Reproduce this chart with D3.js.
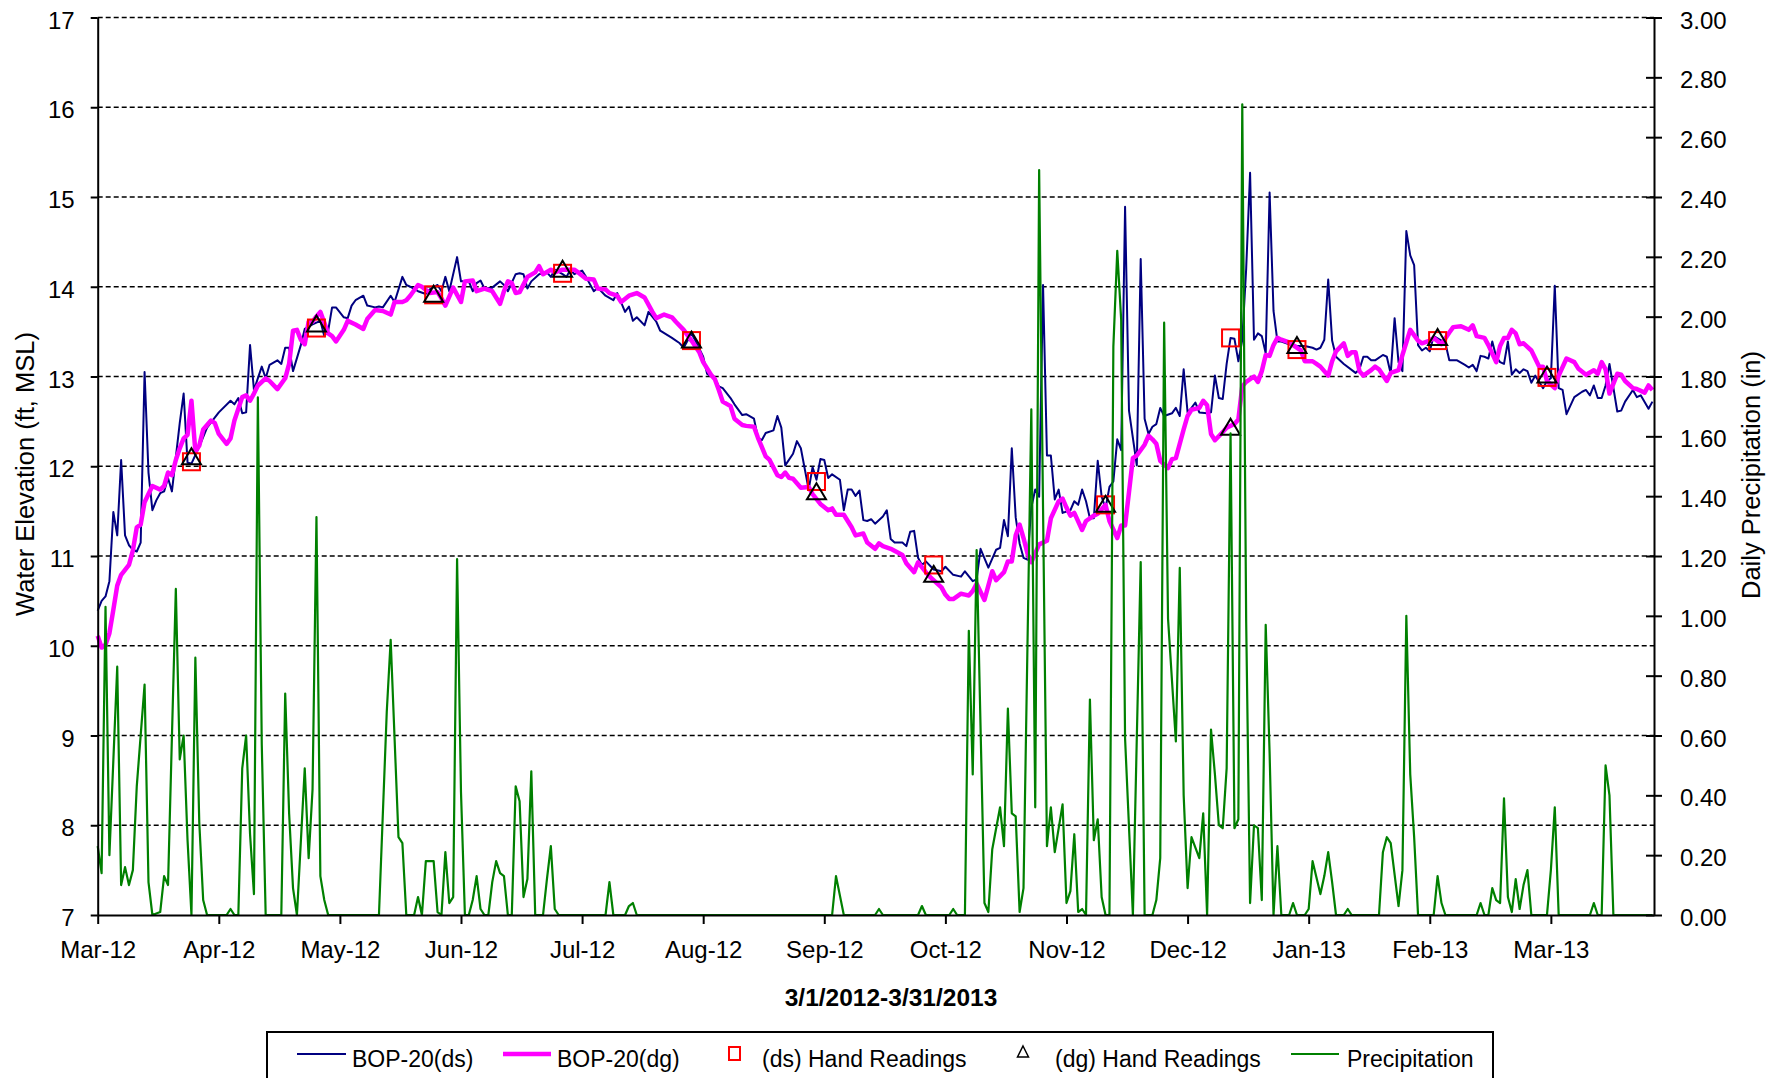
<!DOCTYPE html>
<html>
<head>
<meta charset="utf-8">
<script src="https://cdn.jsdelivr.net/npm/d3@7"></script>
<style>
  body { margin: 0; background: #fff; }
  text { font-family: "Liberation Sans", Arial, sans-serif; fill: #000; }
</style>
</head>
<body>
<div class="center"></div>
<script>
// days are counted from 3/1/2012
var startDate = Date.UTC(2012, 2, 1);
var endDay = 398.4;

// axis ticks (date axis steps 31 days)
var xTickDays = [0, 31, 62, 93, 124, 155, 186, 217, 248, 279, 310, 341, 372];
var elevTicks = [7, 8, 9, 10, 11, 12, 13, 14, 15, 16, 17];
var gridTicks = [8, 9, 10, 11, 12, 13, 14, 15, 16, 17];
var precipTicks = [0, 0.2, 0.4, 0.6, 0.8, 1.0, 1.2, 1.4, 1.6, 1.8, 2.0, 2.2, 2.4, 2.6, 2.8, 3.0];

// BOP-20(ds) water elevation [day, ft MSL]
var dsLevel = [[0,10.39],[1,10.5],[2,10.55],[3,10.72],[4,11.49],[5,11.23],[6,12.07],[7,11.23],[8,11.12],[9,11.07],[10,11.05],[11,11.15],[12,13.05],[13,11.93],[14,11.51],[15,11.62],[16,11.7],[17,11.72],[18,11.87],[19,11.72],[21,12.48],[22,12.81],[23,12.04],[24,12.03],[26,12.22],[28,12.43],[31,12.6],[34,12.73],[35,12.69],[36,12.76],[37,12.59],[38,12.6],[39,13.35],[40,12.85],[42,13.11],[43,12.98],[44,13.13],[46,13.18],[47,13.14],[48,13.32],[49,13.32],[50,13.06],[52,13.35],[53,13.53],[55,13.58],[57,13.62],[58,13.45],[59,13.51],[60,13.77],[61,13.77],[63,13.66],[64,13.65],[65,13.79],[66,13.85],[68,13.9],[69,13.79],[71,13.77],[72,13.78],[73,13.77],[75,13.9],[76,13.83],[78,14.11],[79,14.02],[80,14.0],[82,13.95],[84,13.92],[85,13.97],[87,14.02],[88,13.95],[89,14.11],[90,13.95],[92,14.33],[93,14.06],[95,14.06],[96,13.95],[97,14.04],[98,14.07],[99,13.98],[101,13.99],[103,14.06],[104,14.02],[105,13.95],[107,14.14],[108,14.15],[109,14.14],[110,13.98],[111,14.06],[113,14.14],[115,14.16],[116,14.11],[117,14.19],[119,14.14],[120,14.11],[121,14.19],[122,14.14],[124,14.18],[125,14.11],[127,13.95],[128,13.99],[130,13.9],[132,13.85],[133,13.93],[135,13.72],[136,13.78],[137,13.62],[138,13.66],[140,13.57],[141,13.72],[143,13.61],[144,13.51],[147,13.43],[149,13.37],[150,13.32],[152,13.48],[153,13.4],[155,13.22],[156,13.03],[158,12.98],[159,12.89],[160,12.87],[162,12.76],[163,12.69],[165,12.57],[166,12.58],[168,12.53],[169,12.32],[170,12.29],[171,12.37],[173,12.4],[174,12.56],[175,12.43],[176,12.01],[178,12.14],[179,12.28],[180,12.2],[182,11.74],[183,11.99],[184,11.85],[185,12.08],[186,12.07],[187,11.87],[188,11.91],[190,11.85],[191,11.51],[192,11.74],[193,11.74],[194,11.67],[195,11.73],[196,11.4],[197,11.39],[198,11.41],[199,11.36],[201,11.44],[202,11.51],[203,11.19],[204,11.15],[206,11.15],[207,11.11],[208,11.27],[209,11.28],[210,10.98],[211,10.9],[212,10.94],[214,10.85],[216,10.83],[217,10.88],[219,10.79],[221,10.77],[222,10.83],[224,10.72],[225,10.74],[226,11.08],[228,10.87],[230,11.07],[231,11.09],[232,11.4],[233,11.22],[234,12.2],[235,11.43],[236,11.14],[237,10.98],[238,10.96],[239,11.54],[240,11.74],[241,11.66],[242,14.02],[243,12.12],[244,12.12],[245,11.63],[246,11.74],[247,11.48],[249,11.51],[250,11.61],[251,11.57],[252,11.74],[253,11.61],[254,11.42],[255,11.42],[256,12.06],[257,11.66],[258,11.53],[259,11.77],[260,11.83],[261,12.3],[262,12.18],[263,14.89],[264,12.62],[266,12.01],[267,14.31],[268,12.53],[269,12.36],[270,12.44],[271,12.47],[272,12.65],[273,12.56],[275,12.59],[276,12.65],[277,12.56],[278,13.08],[279,12.6],[280,12.65],[281,12.71],[282,12.6],[284,12.59],[285,12.6],[286,13.01],[287,12.76],[288,12.75],[289,13.14],[290,13.43],[291,13.42],[292,13.17],[293,13.41],[294,14.2],[295,15.27],[296,13.41],[297,13.48],[298,13.45],[299,13.26],[300,15.05],[301,13.73],[302,13.39],[303,13.39],[305,13.36],[307,13.34],[309,13.34],[311,13.32],[312,13.3],[313,13.32],[314,13.41],[315,14.08],[316,13.4],[317,13.22],[319,13.14],[322,13.04],[323,13.08],[324,13.22],[325,13.22],[326,13.18],[327,13.18],[329,13.24],[330,13.22],[331,13.03],[332,13.65],[333,13.16],[334,13.06],[335,14.62],[336,14.35],[337,14.24],[338,13.35],[339,13.29],[340,13.32],[341,13.28],[342,13.45],[344,13.4],[345,13.37],[346,13.18],[348,13.18],[350,13.13],[351,13.1],[352,13.13],[353,13.06],[354,13.23],[355,13.22],[356,13.2],[357,13.39],[358,13.22],[359,13.16],[360,13.14],[361,13.39],[362,13.02],[363,13.08],[364,13.04],[365,13.08],[366,13.06],[367,12.93],[368,13.01],[370,12.87],[371,12.95],[372,12.98],[373,14.01],[374,12.87],[375,12.85],[376,12.58],[378,12.77],[380,12.83],[381,12.85],[382,12.79],[383,12.9],[384,12.76],[385,12.76],[386,12.9],[387,13.14],[389,12.61],[390,12.62],[391,12.72],[393,12.85],[394,12.77],[395,12.79],[397,12.64],[398,12.72]];

// BOP-20(dg) water elevation [day, ft MSL]
var dgLevel = [[0,10.11],[1,9.98],[2,10.01],[3,10.14],[4,10.4],[5,10.67],[6,10.79],[8,10.9],[9,11.06],[10,11.32],[11,11.35],[12,11.6],[13,11.69],[14,11.78],[16,11.74],[17,11.78],[18,11.93],[19,11.9],[20,12.07],[21,12.2],[22,12.31],[23,12.35],[24,12.73],[25,12.16],[26,12.23],[27,12.41],[29,12.51],[30,12.48],[31,12.36],[33,12.25],[34,12.31],[35,12.51],[37,12.77],[38,12.79],[39,12.73],[40,12.81],[41,12.9],[43,12.98],[44,12.95],[46,12.86],[48,12.98],[49,13.14],[50,13.51],[51,13.52],[52,13.41],[53,13.36],[54,13.61],[55,13.61],[56,13.67],[57,13.72],[59,13.48],[60,13.45],[61,13.39],[63,13.52],[64,13.62],[66,13.58],[68,13.53],[69,13.64],[71,13.74],[73,13.73],[75,13.69],[76,13.83],[78,13.83],[79,13.85],[80,13.9],[82,14.02],[83,14.0],[85,13.93],[87,13.94],[88,13.87],[89,13.79],[91,13.99],[93,13.83],[94,14.06],[96,14.07],[97,13.95],[99,13.98],[101,13.95],[103,13.81],[104,13.95],[105,14.06],[106,14.04],[107,13.93],[108,13.94],[110,14.11],[112,14.16],[113,14.23],[114,14.14],[116,14.19],[117,14.16],[119,14.19],[120,14.19],[122,14.19],[123,14.16],[125,14.09],[127,14.08],[128,13.98],[130,13.97],[131,13.93],[133,13.9],[134,13.83],[136,13.9],[138,13.93],[140,13.88],[142,13.72],[143,13.65],[145,13.69],[147,13.66],[148,13.61],[150,13.52],[152,13.4],[154,13.27],[155,13.16],[157,13.02],[158,12.97],[159,12.85],[160,12.72],[162,12.67],[163,12.53],[165,12.46],[166,12.45],[168,12.44],[169,12.32],[171,12.11],[172,12.07],[174,11.9],[175,11.88],[176,11.93],[177,11.87],[178,11.86],[180,11.76],[182,11.77],[183,11.69],[185,11.58],[187,11.51],[188,11.53],[189,11.46],[191,11.46],[193,11.32],[194,11.23],[196,11.25],[197,11.15],[199,11.08],[200,11.14],[201,11.11],[203,11.08],[206,11.01],[207,10.92],[209,10.82],[210,10.93],[212,10.82],[213,10.77],[215,10.69],[216,10.65],[217,10.57],[218,10.52],[219,10.52],[221,10.58],[222,10.57],[223,10.56],[224,10.61],[225,10.69],[227,10.51],[228,10.67],[229,10.83],[230,10.73],[232,10.82],[233,10.94],[234,10.94],[235,11.23],[236,11.35],[237,11.2],[238,11.03],[239,10.93],[240,11.03],[241,11.13],[243,11.17],[244,11.42],[246,11.61],[247,11.64],[248,11.54],[249,11.45],[250,11.48],[252,11.29],[253,11.39],[255,11.45],[256,11.47],[258,11.57],[259,11.39],[261,11.2],[262,11.34],[263,11.34],[264,11.71],[265,12.09],[266,12.12],[268,12.24],[269,12.34],[270,12.3],[271,12.25],[272,12.06],[274,11.98],[275,12.08],[276,12.09],[278,12.41],[279,12.56],[280,12.63],[282,12.65],[283,12.73],[284,12.68],[285,12.36],[286,12.29],[288,12.38],[289,12.43],[291,12.47],[292,12.52],[293,12.89],[294,12.94],[296,13.0],[297,12.94],[298,13.06],[299,13.24],[300,13.23],[301,13.35],[302,13.43],[303,13.41],[305,13.38],[306,13.35],[308,13.29],[309,13.17],[311,13.17],[312,13.14],[313,13.11],[315,13.01],[316,13.17],[317,13.28],[319,13.37],[320,13.23],[321,13.27],[322,13.27],[323,13.06],[324,13.01],[326,13.07],[327,13.11],[328,13.08],[330,12.95],[331,13.04],[333,13.07],[334,13.24],[336,13.52],[338,13.4],[339,13.37],[341,13.4],[342,13.43],[344,13.36],[346,13.49],[347,13.55],[349,13.56],[351,13.52],[352,13.57],[353,13.45],[355,13.43],[356,13.35],[358,13.16],[359,13.34],[360,13.43],[361,13.43],[362,13.52],[363,13.48],[364,13.36],[365,13.37],[367,13.29],[368,13.2],[369,13.11],[370,13.11],[371,12.95],[373,12.87],[374,13.01],[376,13.2],[378,13.16],[379,13.09],[381,13.02],[383,13.07],[384,13.03],[385,13.16],[386,13.08],[387,12.81],[389,13.03],[390,13.02],[391,12.95],[393,12.87],[394,12.86],[396,12.82],[397,12.9],[398,12.85]];

// hand readings [day, ft MSL]
var handDs = [[24,12.05],[56,13.54],[86,13.91],[119,14.15],[152,13.4],[184,11.83],[214,10.9],[258,11.57],[290,13.43],[307,13.3],[343,13.4],[371,12.99]];
var handDg = [[24,12.1],[56,13.58],[86,13.91],[119,14.19],[152,13.4],[184,11.71],[214,10.79],[258,11.57],[290,12.43],[307,13.34],[343,13.43],[371,13.01]];

// daily precipitation [day, in]
var precip = [[0,0.23],[1,0.14],[2,1.03],[3,0.2],[5,0.83],[6,0.1],[7,0.16],[8,0.1],[9,0.15],[10,0.43],[12,0.77],[13,0.11],[14,0],[16,0.01],[17,0.13],[18,0.1],[20,1.09],[21,0.52],[22,0.6],[23,0.25],[24,0],[25,0.86],[26,0.31],[27,0.05],[28,0],[33,0],[34,0.02],[35,0],[36,0],[37,0.49],[38,0.6],[39,0.27],[40,0.07],[41,1.73],[42,0.57],[43,0],[47,0],[48,0.74],[49,0.34],[50,0.09],[51,0],[53,0.49],[54,0.19],[55,0.42],[56,1.33],[57,0.13],[58,0.05],[59,0],[72,0],[74,0.68],[75,0.92],[77,0.26],[78,0.24],[79,0],[81,0],[82,0.06],[83,0],[84,0.18],[86,0.18],[87,0.01],[88,0],[89,0.21],[90,0.04],[91,0.06],[92,1.19],[93,0.41],[94,0],[95,0],[96,0.05],[97,0.13],[98,0.02],[99,0],[100,0],[101,0.11],[102,0.18],[103,0.14],[104,0.13],[105,0],[106,0],[107,0.43],[108,0.38],[109,0.06],[110,0.12],[111,0.48],[112,0],[114,0],[115,0.12],[116,0.23],[117,0.02],[118,0],[130,0],[131,0.11],[132,0],[135,0],[136,0.03],[137,0.04],[138,0],[188,0],[189,0.13],[191,0],[199,0],[200,0.02],[201,0],[210,0],[211,0.03],[212,0],[218,0],[219,0.02],[220,0],[222,0],[223,0.95],[224,0.47],[225,1.22],[227,0.04],[228,0.01],[229,0.22],[231,0.36],[232,0.23],[233,0.69],[234,0.34],[235,0.33],[236,0.01],[237,0.09],[239,1.69],[240,0.36],[241,2.49],[243,0.23],[244,0.36],[245,0.21],[247,0.37],[248,0.04],[249,0.08],[250,0.27],[251,0.01],[252,0.02],[253,0],[254,0.72],[255,0.25],[256,0.32],[257,0.06],[258,0],[259,0],[260,1.9],[261,2.22],[262,1.99],[263,0.59],[265,0],[267,1.18],[268,0],[270,0],[271,0.05],[272,0.19],[273,1.98],[274,0.99],[276,0.58],[277,1.16],[278,0.4],[279,0.09],[280,0.26],[282,0.19],[283,0.34],[284,0],[285,0.62],[286,0.47],[287,0.3],[288,0.29],[289,0.49],[290,1.61],[291,0.29],[292,0.32],[293,2.71],[294,0.98],[295,0.04],[296,0.3],[297,0.29],[298,0.05],[299,0.97],[300,0.54],[301,0],[302,0.23],[303,0],[305,0],[306,0.04],[307,0],[309,0],[310,0.02],[311,0.18],[313,0.07],[314,0.13],[315,0.21],[316,0.11],[317,0],[319,0],[320,0.02],[321,0],[328,0],[329,0.21],[330,0.26],[331,0.24],[333,0.03],[334,0.15],[335,1.0],[336,0.47],[337,0.26],[338,0],[342,0],[343,0.13],[344,0.04],[345,0],[353,0],[354,0.04],[355,0],[356,0],[357,0.09],[358,0.05],[359,0.04],[360,0.39],[361,0.06],[362,0.01],[363,0.12],[364,0.02],[365,0.1],[366,0.15],[367,0],[371,0],[372,0.15],[373,0.36],[374,0],[382,0],[383,0.04],[384,0],[385,0],[386,0.5],[387,0.4],[388,0],[398,0]];

// Set the dimensions of the canvas / plot area
var width = 1779, height = 1078;
var plot = {left: 97.7, right: 1654, top: 17.5, bottom: 915};

function dayToDate(d) { return new Date(startDate + d * 864e5); }

// set the ranges
var x = d3.scaleUtc().domain([dayToDate(0), dayToDate(endDay)]).range([plot.left, plot.right]);
var y = d3.scaleLinear().domain([7, 17]).range([plot.bottom, plot.top]);
var y2 = d3.scaleLinear().domain([0, 3]).range([plot.bottom, plot.top]);

var svg = d3.select(".center").append("svg")
    .attr("width", width)
    .attr("height", height)
    .style("display", "block");

// dashed gridlines
svg.append("g").selectAll("line")
    .data(gridTicks)
    .enter().append("line")
    .attr("x1", plot.left)
    .attr("x2", plot.right)
    .attr("y1", function(d) { return y(d); })
    .attr("y2", function(d) { return y(d); })
    .attr("stroke", "#000")
    .attr("stroke-width", 1.6)
    .attr("stroke-dasharray", "5,3");

// lines
var lineL = d3.line()
    .x(function(d) { return x(dayToDate(d[0])); })
    .y(function(d) { return y(d[1]); });
var lineR = d3.line()
    .x(function(d) { return x(dayToDate(d[0])); })
    .y(function(d) { return y2(d[1]); });

svg.append("path")
    .datum(dsLevel)
    .attr("d", lineL)
    .attr("fill", "none")
    .attr("stroke", "#000080")
    .attr("stroke-width", 2)
    .attr("stroke-linejoin", "round");

svg.append("path")
    .datum(dgLevel)
    .attr("d", lineL)
    .attr("fill", "none")
    .attr("stroke", "#ff00ff")
    .attr("stroke-width", 4.5)
    .attr("stroke-linejoin", "round");

// hand readings
svg.append("g").selectAll("rect")
    .data(handDs)
    .enter().append("rect")
    .attr("x", function(d) { return x(dayToDate(d[0])) - 8.5; })
    .attr("y", function(d) { return y(d[1]) - 8.5; })
    .attr("width", 17)
    .attr("height", 17)
    .attr("fill", "none")
    .attr("stroke", "#ff0000")
    .attr("stroke-width", 2);

var tri = "M0,-9L9.5,7L-9.5,7Z";
svg.append("g").selectAll("path")
    .data(handDg)
    .enter().append("path")
    .attr("d", tri)
    .attr("transform", function(d) { return "translate(" + x(dayToDate(d[0])) + "," + y(d[1]) + ")"; })
    .attr("fill", "none")
    .attr("stroke", "#000")
    .attr("stroke-width", 2);

// precipitation on secondary axis
svg.append("path")
    .datum(precip)
    .attr("d", lineR)
    .attr("fill", "none")
    .attr("stroke", "#008000")
    .attr("stroke-width", 2.2)
    .attr("stroke-linejoin", "round");

// axes
function styleAxis(g) {
    g.selectAll(".domain").attr("stroke", "#000").attr("stroke-width", 2);
    g.selectAll(".tick line").attr("stroke", "#000").attr("stroke-width", 2);
    g.selectAll(".tick text")
        .attr("font-family", "'Liberation Sans', Arial, sans-serif")
        .attr("font-size", "24px")
        .attr("fill", "#000");
}

var gx = svg.append("g")
    .attr("transform", "translate(0," + plot.bottom + ")")
    .call(d3.axisBottom(x)
        .tickValues(xTickDays.map(dayToDate))
        .tickFormat(d3.utcFormat("%b-%y"))
        .tickSize(9)
        .tickSizeOuter(0)
        .tickPadding(17));
styleAxis(gx);

var gy = svg.append("g")
    .attr("transform", "translate(" + plot.left + ",0)")
    .call(d3.axisLeft(y)
        .tickValues(elevTicks)
        .tickSize(7)
        .tickSizeOuter(0)
        .tickPadding(16));
styleAxis(gy);
gy.selectAll(".tick text").attr("dy", "0.44em");

var gy2 = svg.append("g")
    .attr("transform", "translate(" + plot.right + ",0)")
    .call(d3.axisRight(y2)
        .tickValues(precipTicks)
        .tickFormat(d3.format(".2f"))
        .tickSize(8)
        .tickSizeOuter(0)
        .tickPadding(18));
styleAxis(gy2);
gy2.selectAll(".tick line").attr("x1", -8);
gy2.selectAll(".tick text").attr("dy", "0.44em");

// axis titles
svg.append("text")
    .attr("transform", "translate(34," + 474 + ") rotate(-90)")
    .attr("text-anchor", "middle")
    .attr("font-size", "25.5px")
    .text("Water Elevation (ft, MSL)");

svg.append("text")
    .attr("transform", "translate(1760," + 475 + ") rotate(-90)")
    .attr("text-anchor", "middle")
    .attr("font-size", "25.5px")
    .text("Daily Precipitation (in)");

svg.append("text")
    .attr("x", 891)
    .attr("y", 1006)
    .attr("text-anchor", "middle")
    .attr("font-size", "24.5px")
    .attr("font-weight", "bold")
    .text("3/1/2012-3/31/2013");

// legend
var legend = svg.append("g");
legend.append("rect")
    .attr("x", 267)
    .attr("y", 1032)
    .attr("width", 1226)
    .attr("height", 70)
    .attr("fill", "#fff")
    .attr("stroke", "#000")
    .attr("stroke-width", 2);

var ly = 1054;
legend.append("line").attr("x1", 297).attr("x2", 346).attr("y1", ly).attr("y2", ly)
    .attr("stroke", "#000080").attr("stroke-width", 2);
legend.append("line").attr("x1", 503).attr("x2", 551).attr("y1", ly).attr("y2", ly)
    .attr("stroke", "#ff00ff").attr("stroke-width", 4.5);
legend.append("rect").attr("x", 729).attr("y", ly - 7).attr("width", 11).attr("height", 13)
    .attr("fill", "none").attr("stroke", "#ff0000").attr("stroke-width", 2);
legend.append("path").attr("d", "M0,-6L5.5,5L-5.5,5Z")
    .attr("transform", "translate(1023," + (ly - 2) + ")")
    .attr("fill", "none").attr("stroke", "#000").attr("stroke-width", 1.5);
legend.append("line").attr("x1", 1291).attr("x2", 1339).attr("y1", ly).attr("y2", ly)
    .attr("stroke", "#008000").attr("stroke-width", 2);

var legendText = [
    {x: 352, t: "BOP-20(ds)"},
    {x: 557, t: "BOP-20(dg)"},
    {x: 762, t: "(ds) Hand Readings"},
    {x: 1055, t: "(dg) Hand Readings"},
    {x: 1347, t: "Precipitation"}
];
legend.selectAll("text.lt")
    .data(legendText)
    .enter().append("text")
    .attr("class", "lt")
    .attr("x", function(d) { return d.x; })
    .attr("y", 1067)
    .attr("font-size", "23px")
    .text(function(d) { return d.t; });
</script>
</body>
</html>
